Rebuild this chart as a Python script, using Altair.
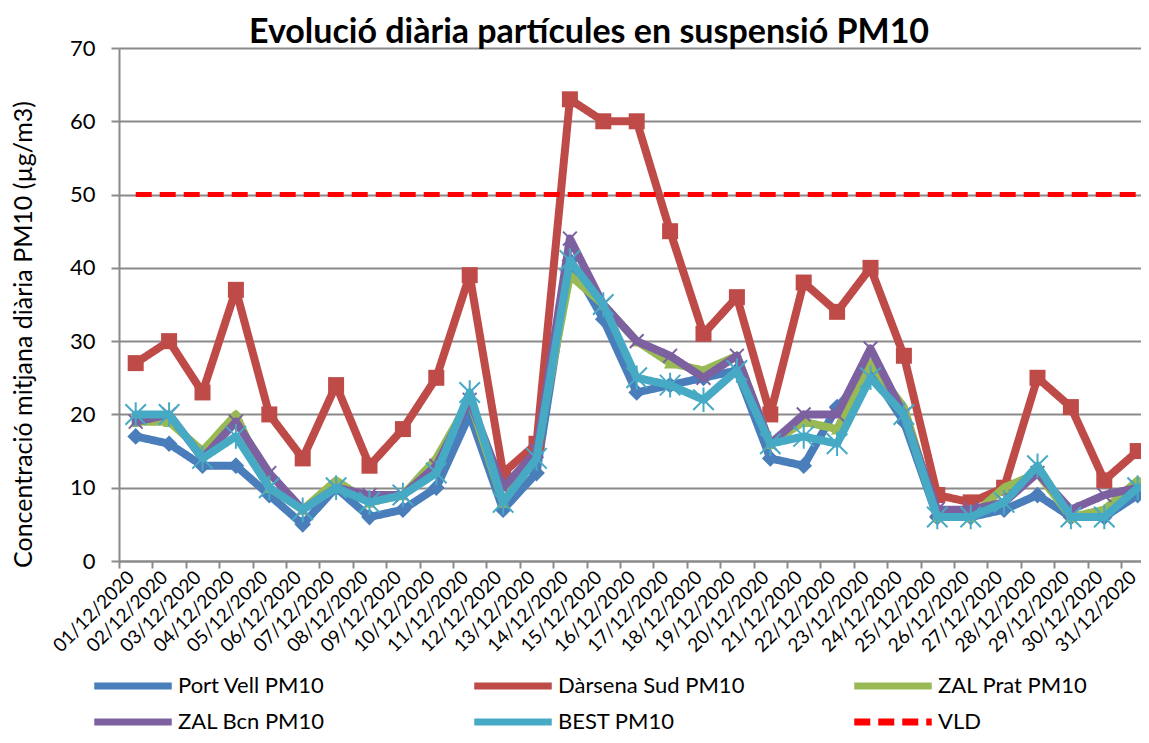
import altair as alt
import pandas as pd

dates = ["01/12/2020", "02/12/2020", "03/12/2020", "04/12/2020", "05/12/2020",
         "06/12/2020", "07/12/2020", "08/12/2020", "09/12/2020", "10/12/2020",
         "11/12/2020", "12/12/2020", "13/12/2020", "14/12/2020", "15/12/2020",
         "16/12/2020", "17/12/2020", "18/12/2020", "19/12/2020", "20/12/2020",
         "21/12/2020", "22/12/2020", "23/12/2020", "24/12/2020", "25/12/2020",
         "26/12/2020", "27/12/2020", "28/12/2020", "29/12/2020", "30/12/2020",
         "31/12/2020"]

port_vell = [17, 16, 13, 13, 9, 5, 10, 6, 7, 10, 20, 7, 12, 41, 33, 23, 24, 25, 26, 14,
             13, 21, 26, 19, 6, 6, 7, 9, 6, 6, 9]
darsena_sud = [27, 30, 23, 37, 20, 14, 24, 13, 18, 25, 39, 12, 16, 63, 60, 60, 45, 31, 36, 20,
               38, 34, 40, 28, 9, 8, 10, 25, 21, 11, 15]
zal_prat = [19, 19, 15, 20, 10, 7, 11, 8, 9, 14, 22, 8, 15, 39, 35, 30, 27, 26, 28, 16,
            19, 18, 27, 21, 6, 6, 10, 12, 6, 7, 11]
zal_bcn = [19, 20, 14, 19, 12, 7, 10, 9, 9, 13, 22, 10, 15, 44, 35, 30, 28, 25, 28, 16,
           20, 20, 29, 20, 7, 7, 8, 12, 7, 9, 10]
best = [20, 20, 14, 17, 10, 7, 10, 8, 9, 12, 23, 8, 14, 41, 35, 25, 24, 22, 26, 16,
        17, 16, 25, 20, 6, 6, 8, 13, 6, 6, 10]
vld = [50] * 31

series_names = ["Port Vell PM10", "Dàrsena Sud PM10", "ZAL Prat PM10",
                "ZAL Bcn PM10", "BEST PM10", "VLD"]
series_values = [port_vell, darsena_sud, zal_prat, zal_bcn, best, vld]
colors = ["#4A7EBB", "#BE4B48", "#98B954", "#7D60A0", "#46AAC5", "#FF0000"]
dashes = [[1, 0], [1, 0], [1, 0], [1, 0], [1, 0], [16, 8]]

X_SHAPE = "M-1,-1L1,1M-1,1L1,-1"
STAR_SHAPE = "M-1,-1L1,1M-1,1L1,-1M0,-1.2L0,1.2"
markers = [
    dict(shape="diamond", filled=True, size=280),
    dict(shape="square", filled=True, size=256),
    dict(shape="triangle-up", filled=True, size=150),
    dict(shape=X_SHAPE, filled=False, size=190, strokeWidth=2),
    dict(shape=STAR_SHAPE, filled=False, size=420, strokeWidth=2),
]

rows = []
for name, vals in zip(series_names, series_values):
    for d, v in zip(dates, vals):
        rows.append({"date": d, "value": v, "series": name})
df = pd.DataFrame(rows)

FONT = "Lato"
GRAY = "#8A8A8A"
STEP = 33.4

x_enc = alt.X(
    "date:O", sort=dates,
    scale=alt.Scale(type="point", padding=0.5, range=[0, STEP * 31]),
    axis=alt.Axis(
        title=None, labelAngle=315, labelAlign="right", labelBaseline="middle",
        labelFont=FONT, labelFontSize=19, labelColor="black", labelOverlap=False,
        labelPadding=6, tickOffset=-STEP / 2, labelOffset=STEP / 2 - 5,
        tickSize=7, tickWidth=2, tickColor=GRAY, domainColor=GRAY, domainWidth=2,
        grid=False,
    ),
)
y_enc = alt.Y(
    "value:Q",
    scale=alt.Scale(domain=[0, 70], nice=False),
    axis=alt.Axis(
        values=[0, 10, 20, 30, 40, 50, 60, 70],
        title="Concentració mitjana diària PM10 (µg/m3)",
        titleFont=FONT, titleFontSize=25, titleFontWeight="normal", titleColor="black",
        titleAngle=270, titleX=-96, titleY=286, titleBaseline="middle", titleAlign="center",
        labelFont=FONT, labelFontSize=22, labelColor="black", labelPadding=16,
        tickSize=8, tickWidth=2, tickColor=GRAY, domainColor=GRAY, domainWidth=2,
        gridColor=GRAY, gridWidth=2,
    ),
)

LEG_SYM = "M-2.5,0L2.5,0"
legend = alt.Legend(
    orient="none", legendX=-5, legendY=619, columns=3, direction="horizontal",
    symbolType=LEG_SYM, symbolSize=31 * 31, symbolStrokeWidth=7,
    labelFont=FONT, labelFontSize=22, labelColor="black", labelOffset=26,
    rowPadding=3, columnPadding=95, gridAlign="all", labelLimit=400,
)
color_enc = alt.Color("series:N", title=None,
                      scale=alt.Scale(domain=series_names, range=colors), legend=legend)
dash_enc = alt.StrokeDash("series:N", title=None,
                          scale=alt.Scale(domain=series_names, range=dashes), legend=legend)

base = alt.Chart(df)
layers = []
for i, name in enumerate(series_names):
    sub = base.transform_filter(alt.datum.series == name)
    width = 5 if name == "VLD" else 8
    line = sub.mark_line(strokeWidth=width, strokeJoin="round",
                         strokeCap="butt" if name == "VLD" else "round").encode(
        x=x_enc, y=y_enc, color=color_enc, strokeDash=dash_enc,
        order=alt.Order("date:O"))
    layers.append(line)
    if i < len(markers):
        m = markers[i]
        kw = dict(shape=m["shape"], filled=m["filled"], size=m["size"], opacity=1)
        if m["filled"]:
            kw["color"] = colors[i]
        else:
            kw["stroke"] = colors[i]
            kw["strokeWidth"] = m["strokeWidth"]
        pts = sub.mark_point(**kw).encode(x=x_enc, y=y_enc)
        layers.append(pts)

chart = alt.layer(*layers).properties(
    width=1022, height=513,
    autosize=alt.AutoSizeParams(type="none"),
    padding={"left": 111, "top": 40, "right": 0, "bottom": 174},
    title=alt.TitleParams(
        "Evolució diària partícules en suspensió PM10",
        font=FONT, fontSize=34, fontWeight="bold", color="black",
        anchor="middle", dx=-41, offset=-13,
    ),
).configure_view(stroke="transparent").configure(background="white")

chart.save("out.html", embed_options={"renderer": "svg", "actions": False})
